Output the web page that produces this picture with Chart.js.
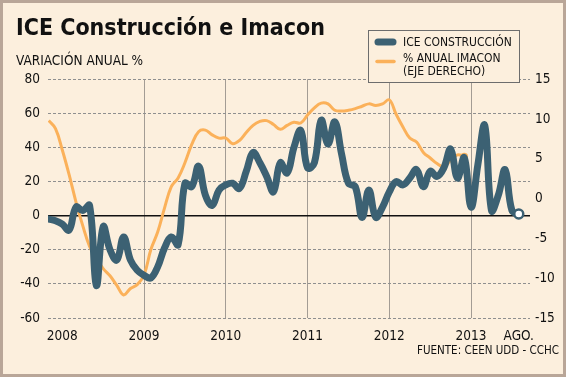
<!DOCTYPE html>
<html>
<head>
<meta charset="utf-8">
<script src="https://cdn.jsdelivr.net/npm/chart.js@4"></script>
<style>
  body { margin: 0; background: #ffffff; }
  #wrap {
    position: relative;
    width: 560px;
    height: 371px;
    border: 3px solid #b9a698;
    background: #fcefdd;
  }
</style>
</head>
<body>
<div id="wrap"><canvas id="chart"></canvas></div>
<script>
// months: first point is Nov 2007 (index -2), last is Aug 2013 (index 67), 0 = Jan 2008
const firstMonth = -2;
const months = [];
for (let i = 0; i < 70; i++) {
  const m = firstMonth + i;
  const year = 2008 + Math.floor(m / 12);
  const mon = ((m % 12) + 12) % 12 + 1;
  months.push(year + "-" + String(mon).padStart(2, "0"));
}

// ICE Construcción, annual variation % (left axis)
const iceValues = [
  -2, -3, -5, -8.5, 5, 3, 6, -41, -6.5, -20, -26, -12.5, -26, -32,
  -35, -36.5, -30, -19, -12.5, -17, 19, 17, 29, 12, 6, 15,
  18, 19, 16, 26, 37, 31, 23, 14, 31, 25, 40, 50,
  28, 31, 56, 42, 55, 36, 19, 17, -1, 15, -1, 5,
  14, 20, 18, 22, 27, 17, 26, 23, 28, 39, 22, 34,
  5, 30, 53, 3, 12, 27, 3, 1,
];

// Imacon, annual % (right axis), Nov 2007 - Dec 2012
const imaconValues = [
  9.8, 8.8, 6.1, 3.0, -0.4, -3.4, -6.0, -7.5, -8.8, -9.7, -10.9, -12.1, -11.3, -10.8,
  -9.6, -6.4, -4.2, -1.2, 1.5, 2.6, 4.5, 6.8, 8.4, 8.6, 8.0, 7.6,
  7.6, 6.9, 7.3, 8.3, 9.2, 9.7, 9.8, 9.3, 8.7, 9.2, 9.6, 9.5,
  10.5, 11.4, 12.0, 11.9, 11.1, 11.0, 11.1, 11.3, 11.6, 11.9, 11.7, 11.9,
  12.4, 10.6, 9.0, 7.6, 7.1, 5.8, 5.1, 4.4, 4.0, 4.8, 5.5, 5.3,
];

const tickMonths = [0, 12, 24, 36, 48, 60, 67];
const tickLabels = ["2008", "2009", "2010", "2011", "2012", "2013", "AGO."];
const yearLines = [12, 24, 36, 48, 60];

const FONT = "'DejaVu Sans Condensed', 'DejaVu Sans', sans-serif";
const ICE_COLOR = "#3c6173";
const IMACON_COLOR = "#fbb15a";
const BG = "#fcefdd";

const iceData = iceValues.map((v, i) => ({ x: firstMonth + i, y: v }));
const imaconData = imaconValues.map((v, i) => ({ x: firstMonth + i, y: v }));

// black zero line on the left axis
const zeroLine = {
  id: "zeroLine",
  beforeDatasetsDraw(chart) {
    const { ctx, chartArea } = chart;
    const y = chart.scales.y.getPixelForValue(0);
    ctx.save();
    ctx.strokeStyle = "#111";
    ctx.lineWidth = 1.5;
    ctx.beginPath();
    ctx.moveTo(chartArea.left, y);
    ctx.lineTo(chartArea.right, y);
    ctx.stroke();
    ctx.restore();
  },
};

// boxed legend and source note
const legendBox = {
  id: "legendBox",
  afterDraw(chart) {
    const ctx = chart.ctx;
    ctx.save();
    ctx.fillStyle = BG;
    ctx.fillRect(365, 27, 151, 52);
    ctx.strokeStyle = "#6d6d6d";
    ctx.lineWidth = 1;
    ctx.strokeRect(365.5, 27.5, 151, 52);

    ctx.lineCap = "round";
    ctx.strokeStyle = ICE_COLOR;
    ctx.lineWidth = 7;
    ctx.beginPath();
    ctx.moveTo(375, 39);
    ctx.lineTo(390, 39);
    ctx.stroke();

    ctx.strokeStyle = IMACON_COLOR;
    ctx.lineWidth = 3.5;
    ctx.beginPath();
    ctx.moveTo(374, 58.5);
    ctx.lineTo(391, 58.5);
    ctx.stroke();

    ctx.fillStyle = "#111";
    ctx.font = "12px " + FONT;
    ctx.textBaseline = "middle";
    ctx.textAlign = "left";
    ctx.fillText("ICE CONSTRUCCIÓN", 400, 40);
    ctx.fillText("% ANUAL IMACON", 400, 56);
    ctx.fillText("(EJE DERECHO)", 400, 69);

    ctx.font = "11.5px " + FONT;
    ctx.textAlign = "right";
    ctx.fillText("FUENTE: CEEN UDD - CCHC", 556, 348);
    ctx.restore();
  },
};

new Chart(document.getElementById("chart"), {
  type: "line",
  data: {
    datasets: [
      {
        label: "ICE CONSTRUCCIÓN",
        data: iceData,
        yAxisID: "y",
        borderColor: ICE_COLOR,
        borderWidth: 7,
        borderCapStyle: "round",
        borderJoinStyle: "round",
        tension: 0.4,
        pointRadius: (c) => (c.dataIndex === iceData.length - 1 ? 4.5 : 0),
        pointBackgroundColor: "#ffffff",
        pointBorderColor: ICE_COLOR,
        pointBorderWidth: 2.5,
      },
      {
        label: "% ANUAL IMACON (EJE DERECHO)",
        data: imaconData,
        yAxisID: "y2",
        borderColor: IMACON_COLOR,
        borderWidth: 3,
        borderJoinStyle: "round",
        tension: 0.4,
        pointRadius: (c) => (c.dataIndex === imaconData.length - 1 ? 3 : 0),
        pointBackgroundColor: "#ffffff",
        pointBorderColor: IMACON_COLOR,
        pointBorderWidth: 1.5,
      },
    ],
  },
  options: {
    responsive: true,
    maintainAspectRatio: false,
    animation: false,
    layout: { padding: { left: 13, right: 0, top: 0, bottom: 0 } },
    scales: {
      x: {
        type: "linear",
        min: -2.1,
        max: 68.65,
        afterBuildTicks: (scale) => {
          scale.ticks = tickMonths.map((v) => ({ value: v }));
        },
        afterFit: (scale) => {
          scale.height = 56;
        },
        ticks: {
          autoSkip: false,
          maxRotation: 0,
          padding: 10,
          color: "#111",
          font: { family: FONT, size: 13.5 },
          callback: (v) => tickLabels[tickMonths.indexOf(v)],
        },
        grid: {
          drawTicks: false,
          color: (c) => (c.tick && yearLines.includes(c.tick.value) ? "#a39c94" : "rgba(0,0,0,0)"),
          lineWidth: 1,
        },
        border: { display: false },
      },
      y: {
        position: "left",
        min: -60,
        max: 80,
        afterFit: (scale) => {
          scale.width = 32;
        },
        ticks: {
          stepSize: 20,
          padding: 8,
          color: "#111",
          font: { family: FONT, size: 13.5 },
        },
        grid: {
          drawTicks: false,
          color: "#8f8f8f",
          lineWidth: 1,
        },
        border: { display: false, dash: [3, 2] },
      },
      y2: {
        position: "right",
        min: -15,
        max: 15,
        afterFit: (scale) => {
          scale.width = 33;
        },
        ticks: {
          stepSize: 5,
          padding: 5,
          color: "#111",
          font: { family: FONT, size: 13.5 },
        },
        grid: { display: false, drawTicks: false },
        border: { display: false },
      },
    },
    plugins: {
      legend: { display: false },
      tooltip: { enabled: false },
      title: {
        display: true,
        text: "ICE Construcción e Imacon",
        align: "start",
        color: "#111",
        font: { family: FONT, size: 23, weight: "bold", lineHeight: 1.2 },
        padding: { top: 12, bottom: 0 },
      },
      subtitle: {
        display: true,
        text: "VARIACIÓN ANUAL %",
        align: "start",
        color: "#111",
        font: { family: FONT, size: 13.5, lineHeight: 1.2 },
        padding: { top: 11, bottom: 9.4 },
      },
    },
  },
  plugins: [zeroLine, legendBox],
});
</script>
</body>
</html>
